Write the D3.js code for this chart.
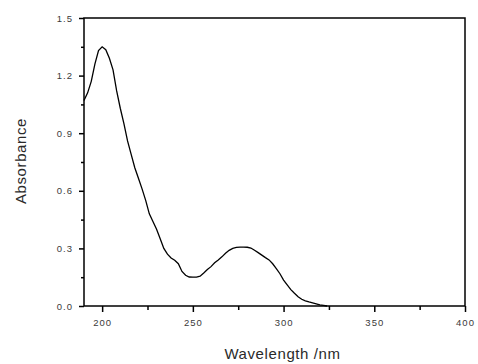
<!DOCTYPE html>
<html>
<head>
<meta charset="utf-8">
<script src="https://cdn.jsdelivr.net/npm/d3@7"></script>
<style>
  body { margin: 0; background: #fff; }
  svg { display: block; }
  .tick-label { font-family: "Liberation Sans", Arial, sans-serif; font-size: 9.5px; fill: #3a3a3a; letter-spacing: 1px; }
  .axis-title { font-family: "Liberation Sans", Arial, sans-serif; font-size: 15px; fill: #2a2a2a; letter-spacing: 0.6px; }
</style>
</head>
<body>
<div id="chart"></div>
<script>
// wavelength (nm) and absorbance
const wavelength = [190, 192, 194, 196, 198, 200, 202, 204, 206, 208, 210, 212, 214, 216, 218, 220,
  222, 224, 226, 228, 230, 232, 234, 236, 238, 240, 242, 244, 246, 248, 250, 252, 254, 256, 258, 260,
  262, 264, 266, 268, 270, 272, 274, 276, 278, 280, 282, 284, 286, 288, 290, 292, 294, 296, 298, 300,
  302, 304, 306, 308, 310, 312, 314, 316, 318, 320, 322, 324];
const absorbance = [1.07, 1.11, 1.17, 1.26, 1.33, 1.35, 1.335, 1.29, 1.23, 1.12, 1.03, 0.95, 0.86, 0.79, 0.72, 0.665,
  0.61, 0.55, 0.48, 0.44, 0.40, 0.35, 0.30, 0.27, 0.25, 0.238, 0.22, 0.18, 0.16, 0.151, 0.15, 0.15, 0.155, 0.172, 0.19, 0.205,
  0.225, 0.24, 0.256, 0.275, 0.29, 0.30, 0.305, 0.307, 0.307, 0.306, 0.302, 0.29, 0.278, 0.265, 0.252, 0.24, 0.22, 0.195, 0.168, 0.135,
  0.11, 0.085, 0.066, 0.048, 0.035, 0.027, 0.021, 0.016, 0.011, 0.006, 0.003, 0.0];

const xTicks = [200, 250, 300, 350, 400];
const xMinorTicks = [225, 275, 325, 375];
const yTicks = [0.0, 0.3, 0.6, 0.9, 1.2, 1.5];
const yMinorTicks = [0.15, 0.45, 0.75, 1.05, 1.35];

const width = 478, height = 364;
const margin = { top: 18, right: 13, bottom: 58, left: 84 };
const w = width - margin.left - margin.right,
  h = height - margin.top - margin.bottom;

const svg = d3.select("#chart").append("svg")
  .attr("width", width)
  .attr("height", height);

const g = svg.append("g")
  .attr("transform", "translate(" + margin.left + "," + margin.top + ")");

const x = d3.scaleLinear().domain([190, 400]).range([0, w]);
const y = d3.scaleLinear().domain([0, 1.5]).range([h, 0]);

// frame
g.append("rect")
  .attr("x", 0).attr("y", 0)
  .attr("width", w).attr("height", h)
  .attr("fill", "none")
  .attr("stroke", "#000")
  .attr("stroke-width", 1.5);

// bottom axis
const xAxis = g.append("g")
  .attr("transform", "translate(0," + h + ")")
  .call(d3.axisBottom(x).tickValues(xTicks).tickSize(6).tickPadding(7).tickFormat(d3.format("d")));
xAxis.select(".domain").remove();
xAxis.selectAll("line").attr("stroke-width", 1.5);
xAxis.selectAll("text").attr("class", "tick-label").attr("font-size", null).attr("font-family", null);
g.append("g")
  .attr("transform", "translate(0," + h + ")")
  .call(d3.axisBottom(x).tickValues(xMinorTicks).tickSize(4).tickFormat(""))
  .call(a => a.select(".domain").remove())
  .selectAll("line").attr("stroke-width", 1.5);

// left axis
const yAxis = g.append("g")
  .call(d3.axisLeft(y).tickValues(yTicks).tickSize(5).tickPadding(6).tickFormat(d3.format(".1f")));
yAxis.select(".domain").remove();
yAxis.selectAll("line").attr("stroke-width", 1.5);
yAxis.selectAll("text").attr("class", "tick-label").attr("font-size", null).attr("font-family", null);
g.append("g")
  .call(d3.axisLeft(y).tickValues(yMinorTicks).tickSize(3).tickFormat(""))
  .call(a => a.select(".domain").remove())
  .selectAll("line").attr("stroke-width", 1.5);

// spectrum
const line = d3.line()
  .x((d, i) => x(wavelength[i]))
  .y(d => y(d));

g.append("path")
  .datum(absorbance)
  .attr("fill", "none")
  .attr("stroke", "#000")
  .attr("stroke-width", 1.3)
  .attr("d", line);

// axis titles
svg.append("text")
  .attr("class", "axis-title")
  .attr("x", margin.left + w / 2 + 8)
  .attr("y", 359)
  .attr("text-anchor", "middle")
  .text("Wavelength /nm");

svg.append("text")
  .attr("class", "axis-title")
  .attr("transform", "rotate(-90)")
  .attr("x", -161)
  .attr("y", 26)
  .attr("text-anchor", "middle")
  .text("Absorbance");
</script>
</body>
</html>
